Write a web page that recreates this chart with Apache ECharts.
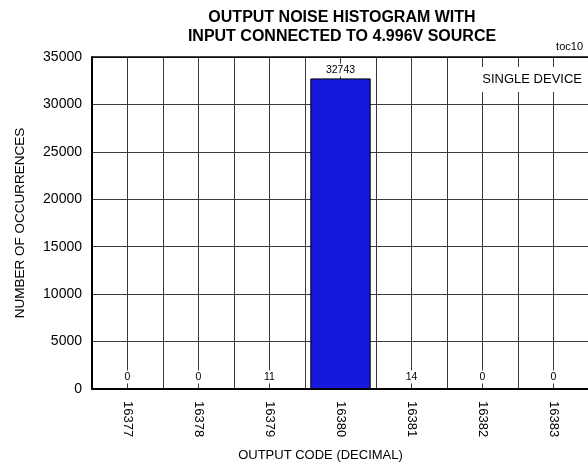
<!DOCTYPE html>
<html>
<head>
<meta charset="utf-8">
<script src="https://cdn.jsdelivr.net/npm/echarts@6/dist/echarts.min.js"></script>
<style>
  html, body { margin: 0; padding: 0; background: #fff; }
  #main { width: 588px; height: 466px; }
</style>
</head>
<body>
<div id="main"></div>
<script>
// output codes and how often each one came up
var codes = ['16377', '16378', '16379', '16380', '16381', '16382', '16383'];
var counts = [0, 0, 11, 32743, 14, 0, 0];
var yMin = 0, yMax = 35000, yStep = 5000;

var font = 'Liberation Sans, Arial, sans-serif';
var gridColor = '#3a3a3a';

var chart = echarts.init(document.getElementById('main'));

// tall bar gets its label closer than the near-zero ones
var barData = counts.map(function (v) {
    return { value: v, label: { distance: v > 1000 ? 2 : 5 } };
});

var option = {
    backgroundColor: '#fff',
    animation: false,
    textStyle: { fontFamily: font },
    grid: { left: 92, right: -1, top: 57, bottom: 77, containLabel: false, outerBoundsMode: 'none' },
    graphic: [
        {
            type: 'text', x: 342, y: 8,
            style: {
                text: 'OUTPUT NOISE HISTOGRAM WITH\nINPUT CONNECTED TO 4.996V SOURCE',
                font: 'bold 16px ' + font, fill: '#000',
                align: 'center', lineHeight: 19
            }
        },
        {
            type: 'text', right: 5, top: 41,
            style: { text: 'toc10', font: '11px ' + font, fill: '#000' }
        },
        {
            type: 'text', right: 4, top: 67, z: 100,
            style: {
                text: 'SINGLE DEVICE', font: '13px ' + font, fill: '#000',
                backgroundColor: '#fff', padding: [6, 2, 6, 4]
            }
        }
    ],
    xAxis: [
        {
            type: 'category',
            data: codes,
            boundaryGap: true,
            name: 'OUTPUT CODE (DECIMAL)',
            nameLocation: 'middle',
            nameGap: 60,
            nameTextStyle: { fontSize: 13, color: '#000', padding: [0, 40, 0, 0] },
            axisLine: { lineStyle: { color: '#000', width: 2 } },
            axisTick: { alignWithLabel: true, length: 4, lineStyle: { color: '#000' } },
            axisLabel: { rotate: -90, fontSize: 13, color: '#000', margin: 12 },
            splitLine: { show: false }
        },
        {
            // half-category grid lines, also gives the top border
            type: 'value',
            position: 'top',
            min: 0, max: 14, interval: 1,
            axisLine: { show: true, onZero: false, lineStyle: { color: '#000', width: 1.5 } },
            axisTick: { show: false },
            axisLabel: { show: false },
            splitLine: { show: true, lineStyle: { color: gridColor, width: 1 } }
        }
    ],
    yAxis: {
        type: 'value',
        min: yMin, max: yMax, interval: yStep,
        name: 'NUMBER OF OCCURRENCES',
        nameLocation: 'middle',
        nameGap: 65,
        nameTextStyle: { fontSize: 13.5, color: '#000' },
        axisLine: { show: true, lineStyle: { color: '#000', width: 2 } },
        axisTick: { show: false },
        axisLabel: {
            fontSize: 14, color: '#000', margin: 10,
            formatter: function (v) { return String(v); }
        },
        splitLine: { show: true, lineStyle: { color: gridColor, width: 1 } }
    },
    series: [
        {
            type: 'bar',
            xAxisIndex: 0,
            data: barData,
            barWidth: '85%',
            itemStyle: { color: '#1618dc', borderColor: '#000', borderWidth: 1 },
            label: {
                show: true,
                position: 'top',
                fontSize: 10.5,
                color: '#000',
                backgroundColor: '#fff',
                padding: [1, 2]
            }
        }
    ]
};

chart.setOption(option);
</script>
</body>
</html>
